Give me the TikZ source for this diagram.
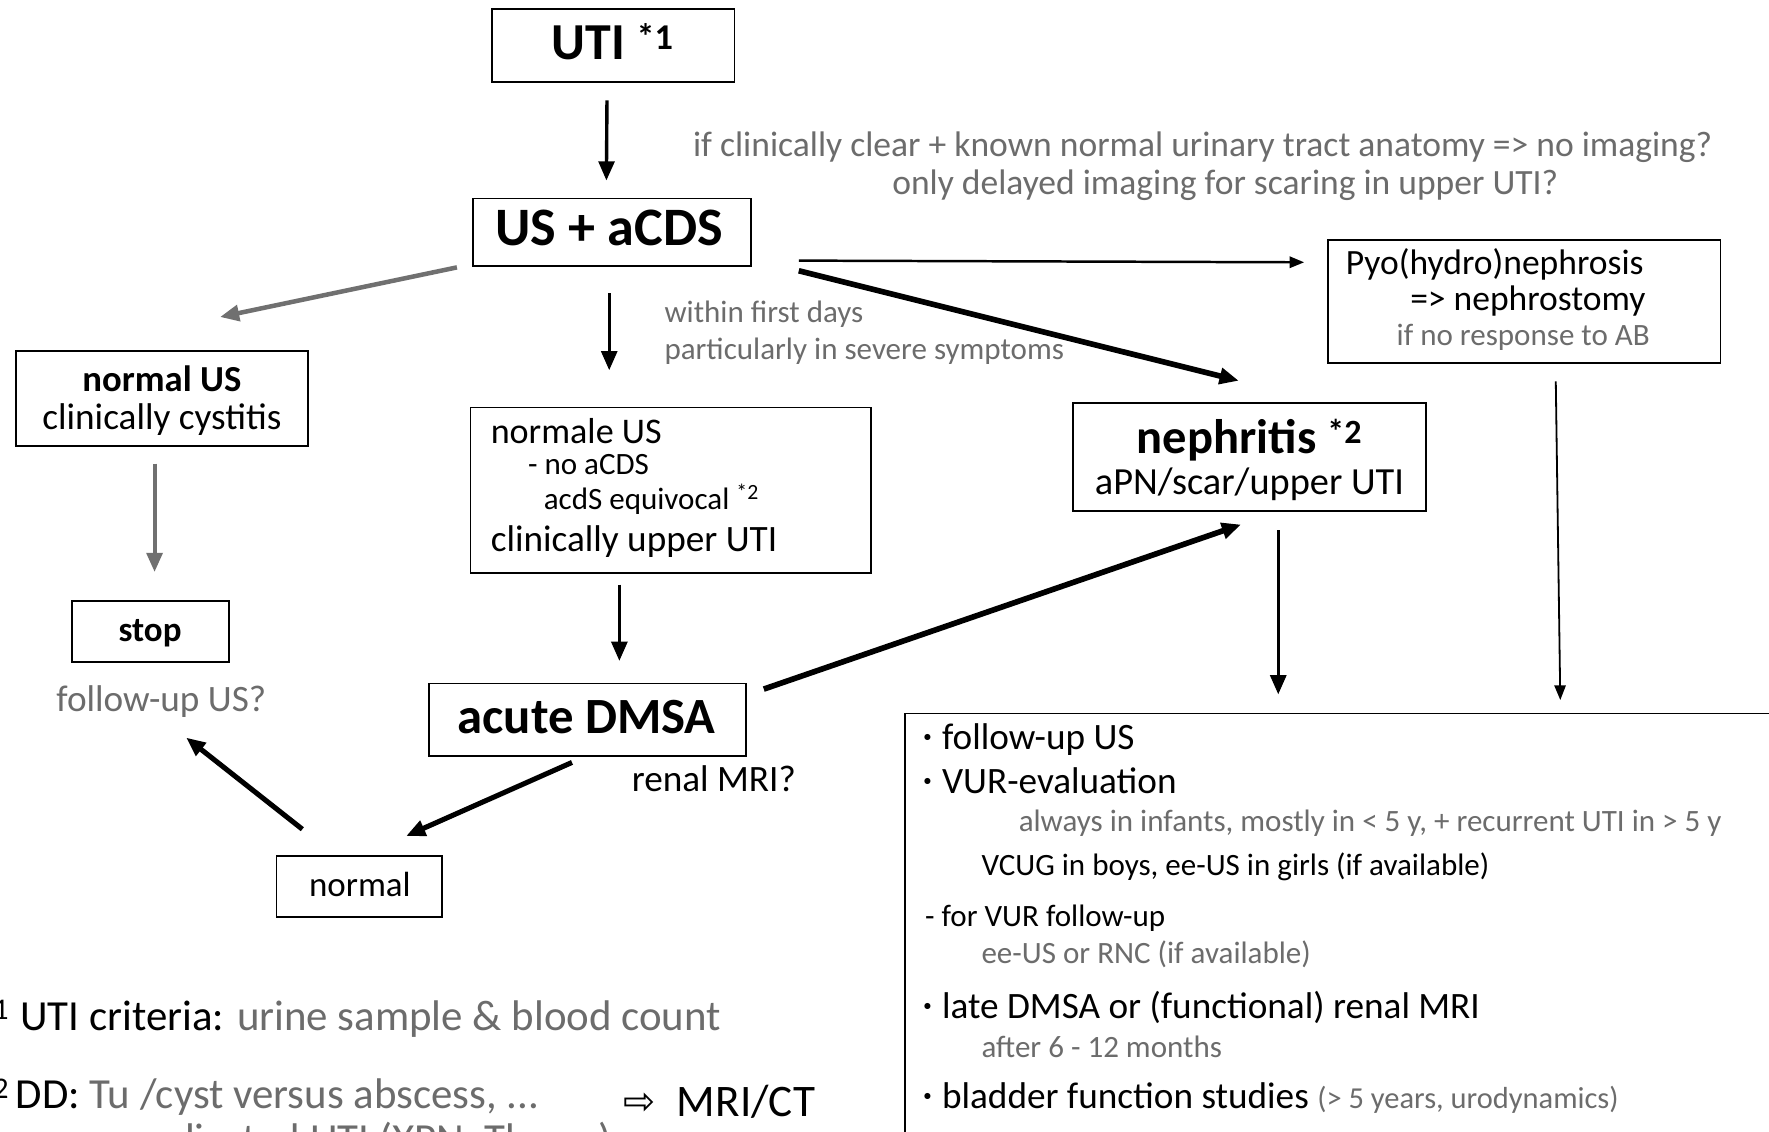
\documentclass[tikz,border=0pt]{standalone}
\usepackage{fontspec}
\setmainfont{Carlito}
\newfontfamily\symfont{DejaVu Sans}
\usetikzlibrary{arrows.meta}

\definecolor{note}{RGB}{108,108,108}
\definecolor{greyline}{RGB}{112,112,112}

\newcommand\fsz[1]{\fontsize{#1pt}{#1pt}\selectfont}
\newcommand\bul{\makebox[17pt][l]{\fsz{38}·}}

\tikzset{
  box/.style={draw=black, line width=1.6pt, inner sep=0pt, outer sep=0pt},
  txt/.style={inner sep=0pt, outer sep=0pt, anchor=base west},
  ctxt/.style={inner sep=0pt, outer sep=0pt, anchor=base},
  head/.style={font=\fsz{46}\bfseries},
  main/.style={font=\fsz{33}},
  small/.style={font=\fsz{27.5}},
  grey/.style={text=note},
  conn/.style={line width=#1, -{Triangle[length=17pt,width=14pt]}},
  thinconn/.style={line width=#1, -{Triangle[length=13pt,width=10pt]}},
}

\begin{document}
\begin{tikzpicture}[x=1pt,y=-1pt]
\path[use as bounding box, clip] (0,0) rectangle (1568,1003);
\fill[white] (0,0) rectangle (1568,1003);

% ---------- boxes ----------
\node[box, minimum width=215pt, minimum height=65pt]   (uti)    at (543.5,40.5)  {};
\node[box, minimum width=247pt, minimum height=60pt]   (us)     at (542.5,206)   {};
\node[box, minimum width=348pt, minimum height=109pt]  (pyo)    at (1351,267.5)  {};
\node[box, minimum width=259pt, minimum height=84pt]   (nus)    at (143.5,353)   {};
\node[box, minimum width=139pt, minimum height=53.5pt] (stop)   at (133.5,559.7) {};
\node[box, minimum width=355pt, minimum height=147pt]  (nbox)   at (594.5,434.7) {};
\node[box, minimum width=281pt, minimum height=64pt]   (dmsa)   at (520.5,637.8) {};
\node[box, minimum width=313pt, minimum height=95.5pt] (neph)   at (1107.5,405.2){};
\node[box, minimum width=147pt, minimum height=54pt]   (normal) at (318.5,786)   {};
\node[box, anchor=north west, minimum width=900pt, minimum height=500pt] (big) at (802,632.5) {};

% ---------- box texts ----------
\node[ctxt, head] (utiT) at (543,52.6) {UTI \textsuperscript{*1}};
\node[ctxt, font=\fsz{48}\bfseries] (usT) at (540,217.5) {US + aCDS};

\node[txt, font=\fsz{31.5}] (pyo1) at (1193,243.7) {Pyo(hydro)nephrosis};
\node[txt, font=\fsz{31.5}] (pyo2) at (1250,275.4) {=> nephrostomy};
\node[txt, small, grey]     (pyo3) at (1238,305.8) {if no response to AB};

\node[ctxt, main, font=\fsz{32.5}\bfseries] (nus1) at (143.5,347.2) {normal US};
\node[ctxt, main] (nus2) at (143.5,380.5) {clinically cystitis};

\node[ctxt, font=\fsz{31}\bfseries] (stopT) at (133,568.7) {stop};
\node[ctxt, main, grey] (fu) at (143,630.8) {follow-up US?};

\node[txt, font=\fsz{32}] (nb1) at (435,393) {normale US};
\node[txt, small]         (nb2) at (468,421) {- no aCDS};
\node[txt, small]         (nb3) at (482,452) {acdS equivocal \textsuperscript{*2}};
\node[txt, main]          (nb4) at (435,489) {clinically upper UTI};

\node[ctxt, font=\fsz{45}\bfseries] (dmsaT) at (520,650) {acute DMSA};
\node[txt, main] (mri) at (560,701.7) {renal MRI?};

\node[ctxt, font=\fsz{43}\bfseries] (neph1) at (1107.5,402.4) {nephritis \textsuperscript{*2}};
\node[ctxt, font=\fsz{34}] (neph2) at (1107.5,438.7) {aPN/scar/upper UTI};

\node[ctxt, font=\fsz{31}] (normalT) at (319,794.8) {normal};

% ---------- notes ----------
\node[ctxt, grey, font=\fsz{31.5}] (note1) at (1066,138.9)
  {if clinically clear + known normal urinary tract anatomy => no imaging?};
\node[ctxt, grey, font=\fsz{31.5}] (note2) at (1086,172)
  {only delayed imaging for scaring in upper UTI?};
\node[txt, grey, font=\fsz{27.5}] (when1) at (589,286) {within first days};
\node[txt, grey, font=\fsz{27.5}] (when2) at (589,318.5) {particularly in severe symptoms};

% ---------- follow-up list ----------
\node[txt, main]  (b1) at (818,664.2) {\bul follow-up US};
\node[txt, main]  (b2) at (818,703.2) {\bul VUR-evaluation};
\node[txt, small, grey] (b3) at (903,737.2)
  {always in infants, mostly in < 5 y, + recurrent UTI in > 5 y};
\node[txt, small] (b4) at (870,775.6) {VCUG in boys, ee-US in girls (if available)};
\node[txt, small] (b5) at (820,821.4) {- for VUR follow-up};
\node[txt, small, grey] (b6) at (870,853.8) {ee-US or RNC (if available)};
\node[txt, main]  (b7) at (818,902.6) {\bul late DMSA or (functional) renal MRI};
\node[txt, small, grey] (b8) at (870,937.2) {after 6 - 12 months};
\node[txt, main]  (b9) at (818,982.4)
  {\bul bladder function studies {\color{note}\fsz{27}(> 5 years, urodynamics)}};

% ---------- footnotes ----------
\node[txt, font=\fsz{38}] (fn1) at (18,913)
  {\llap{*\textsuperscript{1}\hspace{10pt}}UTI criteria: {\color{note}urine sample \& blood count}};
\node[txt, font=\fsz{38}] (fn2) at (14,982.4)
  {\llap{*\textsuperscript{2}\hspace{6pt}}DD: {\color{note}Tu /cyst versus abscess, ...}};
\node[txt, font=\fsz{40}] (fn3) at (553,989.8)
  {\makebox[47pt][l]{\raisebox{2pt}{\symfont\fsz{34}⇨}}MRI/CT};
\node[txt, grey, font=\fsz{38}] (fn4) at (78,1022) {complicated UTI (XPN, Tbc, ...)};

% ---------- connectors ----------
\draw[conn=3pt] ([shift={(-5.5,16)}]uti.south) -- ([shift={(-5,-16)}]us.north);
\draw[conn=4pt, greyline] ([shift={(-14,1)}]us.south west) -- ([shift={(51.5,-30)}]nus.north);
\draw[conn=3pt] ([shift={(-2.5,24)}]us.south) -- ([shift={(-54.5,-33)}]nbox.north);
\draw[thinconn=2.2pt] ([shift={(42,-5)}]us.south east) -- ([shift={(-21,-35)}]pyo.west);
\draw[conn=5pt] ([shift={(42,4)}]us.south east) -- ([shift={(-9.5,-20)}]neph.north);
\draw[thinconn=1.6pt] ([shift={(28,16)}]pyo.south) -- ([shift={(581,-12)}]big.north west);
\draw[conn=3.5pt, greyline] ([shift={(-6.5,16)}]nus.south) -- ([shift={(3.5,-26)}]stop.north);
\draw[conn=3pt] ([shift={(-45.5,10)}]nbox.south) -- ([shift={(28.5,-20)}]dmsa.north);
\draw[conn=5pt] ([shift={(16,5)}]dmsa.north east) -- ([shift={(-7.5,12)}]neph.south);
\draw[conn=3pt] ([shift={(25.5,17)}]neph.south) -- ([shift={(331,-17)}]big.north west);
\draw[conn=4.5pt] ([shift={(-13.5,6)}]dmsa.south) -- ([shift={(41.5,-18)}]normal.north);
\draw[conn=4.5pt] ([shift={(-50.5,-24)}]normal.north) -- ([shift={(22,23)}]fu.base);
\end{tikzpicture}
\end{document}
